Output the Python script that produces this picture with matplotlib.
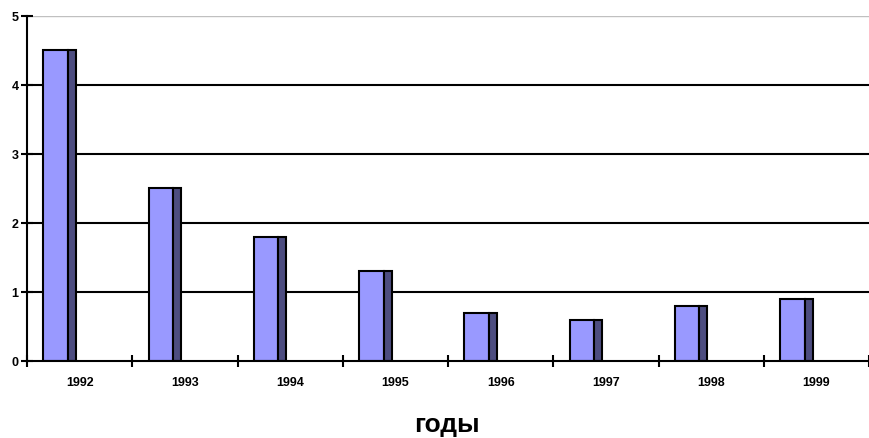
import matplotlib
matplotlib.use("Agg")
import matplotlib.pyplot as plt
import numpy as np

plt.rcParams['font.family'] = ['Liberation Sans', 'DejaVu Sans']

years = ["1992", "1993", "1994", "1995", "1996", "1997", "1998", "1999"]
values = [4.5, 2.5, 1.8, 1.3, 0.7, 0.6, 0.8, 0.9]
y_ticks = [0, 1, 2, 3, 4, 5]
x_label = "годы"

front_color = "#9999FF"
side_color = "#4d4d80"

fig = plt.figure(figsize=(8.7, 4.39), dpi=100)
ax = fig.add_axes([0.031, 0.1754, 0.968, 0.7859])

x = np.arange(len(years))
front_left = x - 0.345
front_w = 0.232
side_w = 0.076

ax.bar(front_left, values, width=front_w, align='edge', color=front_color,
       edgecolor='black', linewidth=1.5, zorder=3)
ax.bar(front_left + front_w, values, width=side_w, align='edge', color=side_color,
       edgecolor='black', linewidth=1.5, zorder=3)

# horizontal grid lines
for yv in y_ticks[1:]:
    if yv == y_ticks[-1]:
        ax.axhline(yv, color='#c0c0c0', linewidth=1.0, zorder=1)
    else:
        ax.axhline(yv, color='black', linewidth=1.5, zorder=1)

ax.set_xlim(-0.5, len(years) - 0.5)
ax.set_ylim(0, 5)

ax.set_yticks(y_ticks)
ax.set_yticklabels([str(v) for v in y_ticks], fontsize=9, fontweight='bold')
ax.tick_params(axis='y', direction='inout', length=8, width=1.5, pad=2)

ax.set_xticks(np.arange(len(years) + 1) - 0.5)
ax.set_xticklabels([])
ax.set_xticks(x, minor=True)
ax.set_xticklabels(years, minor=True, fontsize=9, fontweight='bold')
ax.tick_params(axis='x', which='major', direction='inout', length=8, width=1.5)
ax.tick_params(axis='x', which='minor', length=0, pad=11)

for side in ['top', 'right']:
    ax.spines[side].set_visible(False)
for side in ['left', 'bottom']:
    ax.spines[side].set_linewidth(1.5)
    ax.spines[side].set_zorder(4)

fig.text(0.514, 0.016, x_label, fontsize=19, fontweight='bold', ha='center', va='baseline')

fig.savefig("out.png", dpi=100)
